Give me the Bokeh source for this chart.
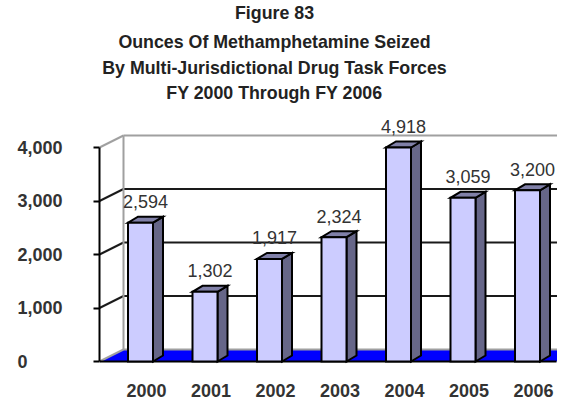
from bokeh.plotting import figure
from bokeh.models import Range1d, FixedTicker
from bokeh.core.properties import value
from bokeh.embed import file_html
from bokeh.resources import INLINE

# ---------------- data ----------------
years = ["2000", "2001", "2002", "2003", "2004", "2005", "2006"]
ounces = [2594, 1302, 1917, 2324, 4918, 3059, 3200]
value_labels = ["2,594", "1,302", "1,917", "2,324", "4,918", "3,059", "3,200"]
y_ticks = [0, 1000, 2000, 3000, 4000]
y_tick_labels = ["0\u2007\u2008\u2007\u2007", "1,000", "2,000", "3,000", "4,000"]
title_lines = [
    "Figure 83",
    "Ounces Of Methamphetamine Seized",
    "By Multi-Jurisdictional Drug Task Forces",
    "FY 2000 Through FY 2006",
]
axis_max = 4000

# ---------------- layout (pixels) ----------------
W, H = 557, 401
LEFT = 99            # left panel width (frame starts here)
PXX = 64.5           # pixels per category
PXY = 0.0535         # pixels per value unit
X0 = 140             # figure-x of category 0 (front face centre)
Y0 = 361             # figure-y (from top) of value 0 at the front
BASE_FIX = 6         # rendered baseline sits this many px below the requested one

def cx(px):
    return (px - X0) / PXX

def vy(py):
    return (Y0 - py) / PXY

FONT = value("Liberation Sans")
TXT = "#333333"

p = figure(width=W, height=H, output_backend="svg", toolbar_location=None, title=None,
           x_range=Range1d(cx(LEFT), cx(W)), y_range=Range1d(vy(H), vy(0)),
           x_axis_location=None, y_axis_location="left",
           min_border_left=LEFT, min_border_right=0, min_border_top=0,
           min_border_bottom=0, outline_line_color=None)
p.grid.visible = False
p.background_fill_color = "white"
p.border_fill_color = "white"

# depth offsets
DX = 24 / PXX
DY = 12 / PXY
BDX = 10 / PXX
BDY = 6 / PXY
HW = 12.5 / PXX
XL = cx(LEFT)
XR = cx(556)

# floor
p.patch([XL, XR, XR + DX, XL + DX], [0, 0, DY, DY], fill_color="#0000FF",
        line_color=None)

# walls: back gridlines and side diagonals
for t in y_ticks:
    dark = 0 < t < axis_max
    col = "#1a1a1a" if dark else "#a0a0a0"
    p.line([XL + DX, XR + DX + 1], [t + DY, t + DY], line_color=col, line_width=2)
    p.line([XL, XL + DX], [t, t + DY], line_color=col, line_width=2)
p.line([XL + DX, XL + DX], [DY, axis_max + DY], line_color="#a0a0a0", line_width=2)

# front bottom edge
p.line([XL, XR], [0, 0], line_color="black", line_width=2)

# bars (clipped at the axis maximum like the original 3-D chart)
hs = [min(v, axis_max) for v in ounces]
xs = list(range(len(years)))
side_xs = [[i + HW, i + HW + BDX, i + HW + BDX, i + HW] for i in xs]
side_ys = [[0, BDY, h + BDY, h] for h in hs]
top_xs = [[i - HW, i + HW, i + HW + BDX, i - HW + BDX] for i in xs]
top_ys = [[h, h, h + BDY, h + BDY] for h in hs]
p.patches(side_xs, side_ys, fill_color="#666688", line_color="black",
          line_width=2, line_join="miter")
p.patches(top_xs, top_ys, fill_color="#8080A8", line_color="black",
          line_width=2, line_join="miter")
p.quad(left=[i - HW for i in xs], right=[i + HW for i in xs], bottom=0, top=hs,
       fill_color="#CCCCFF", line_color="black", line_width=2, line_join="miter")

# value labels
p.text(x=[i + 5 / PXX for i in xs], y=[h + (15 + BASE_FIX) / PXY for h in hs],
       text=value_labels, text_font=FONT, text_font_size="18px", text_color=TXT,
       text_align="center", text_baseline="alphabetic")

# category labels
p.text(x=[i + 6 / PXX for i in xs], y=[vy(Y0 + 35 - BASE_FIX)] * len(xs), text=years,
       text_font=FONT, text_font_size="18px", text_font_style="bold",
       text_color=TXT, text_align="center", text_baseline="alphabetic")

# title
title_base = [18, 47, 73, 98]
p.text(x=[cx(274)] * 4, y=[vy(b - BASE_FIX) for b in title_base], text=title_lines,
       text_font=FONT, text_font_size="17.8px", text_font_style="bold",
       text_color="#222222", text_align="center", text_baseline="alphabetic")

# y axis
ax = p.yaxis[0]
ax.bounds = (0, axis_max)
ax.ticker = FixedTicker(ticks=y_ticks)
ax.major_label_overrides = {t: lab for t, lab in zip(y_ticks, y_tick_labels)}
ax.axis_line_color = "black"
ax.axis_line_width = 2
ax.major_tick_line_color = "black"
ax.major_tick_line_width = 2
ax.major_tick_out = 6
ax.major_tick_in = 0
ax.minor_tick_line_color = None
ax.major_label_standoff = 31
ax.major_label_text_font = "Liberation Sans"
ax.major_label_text_font_size = "18px"
ax.major_label_text_font_style = "bold"
ax.major_label_text_color = TXT

open("out.html", "w").write(file_html(p, INLINE))
